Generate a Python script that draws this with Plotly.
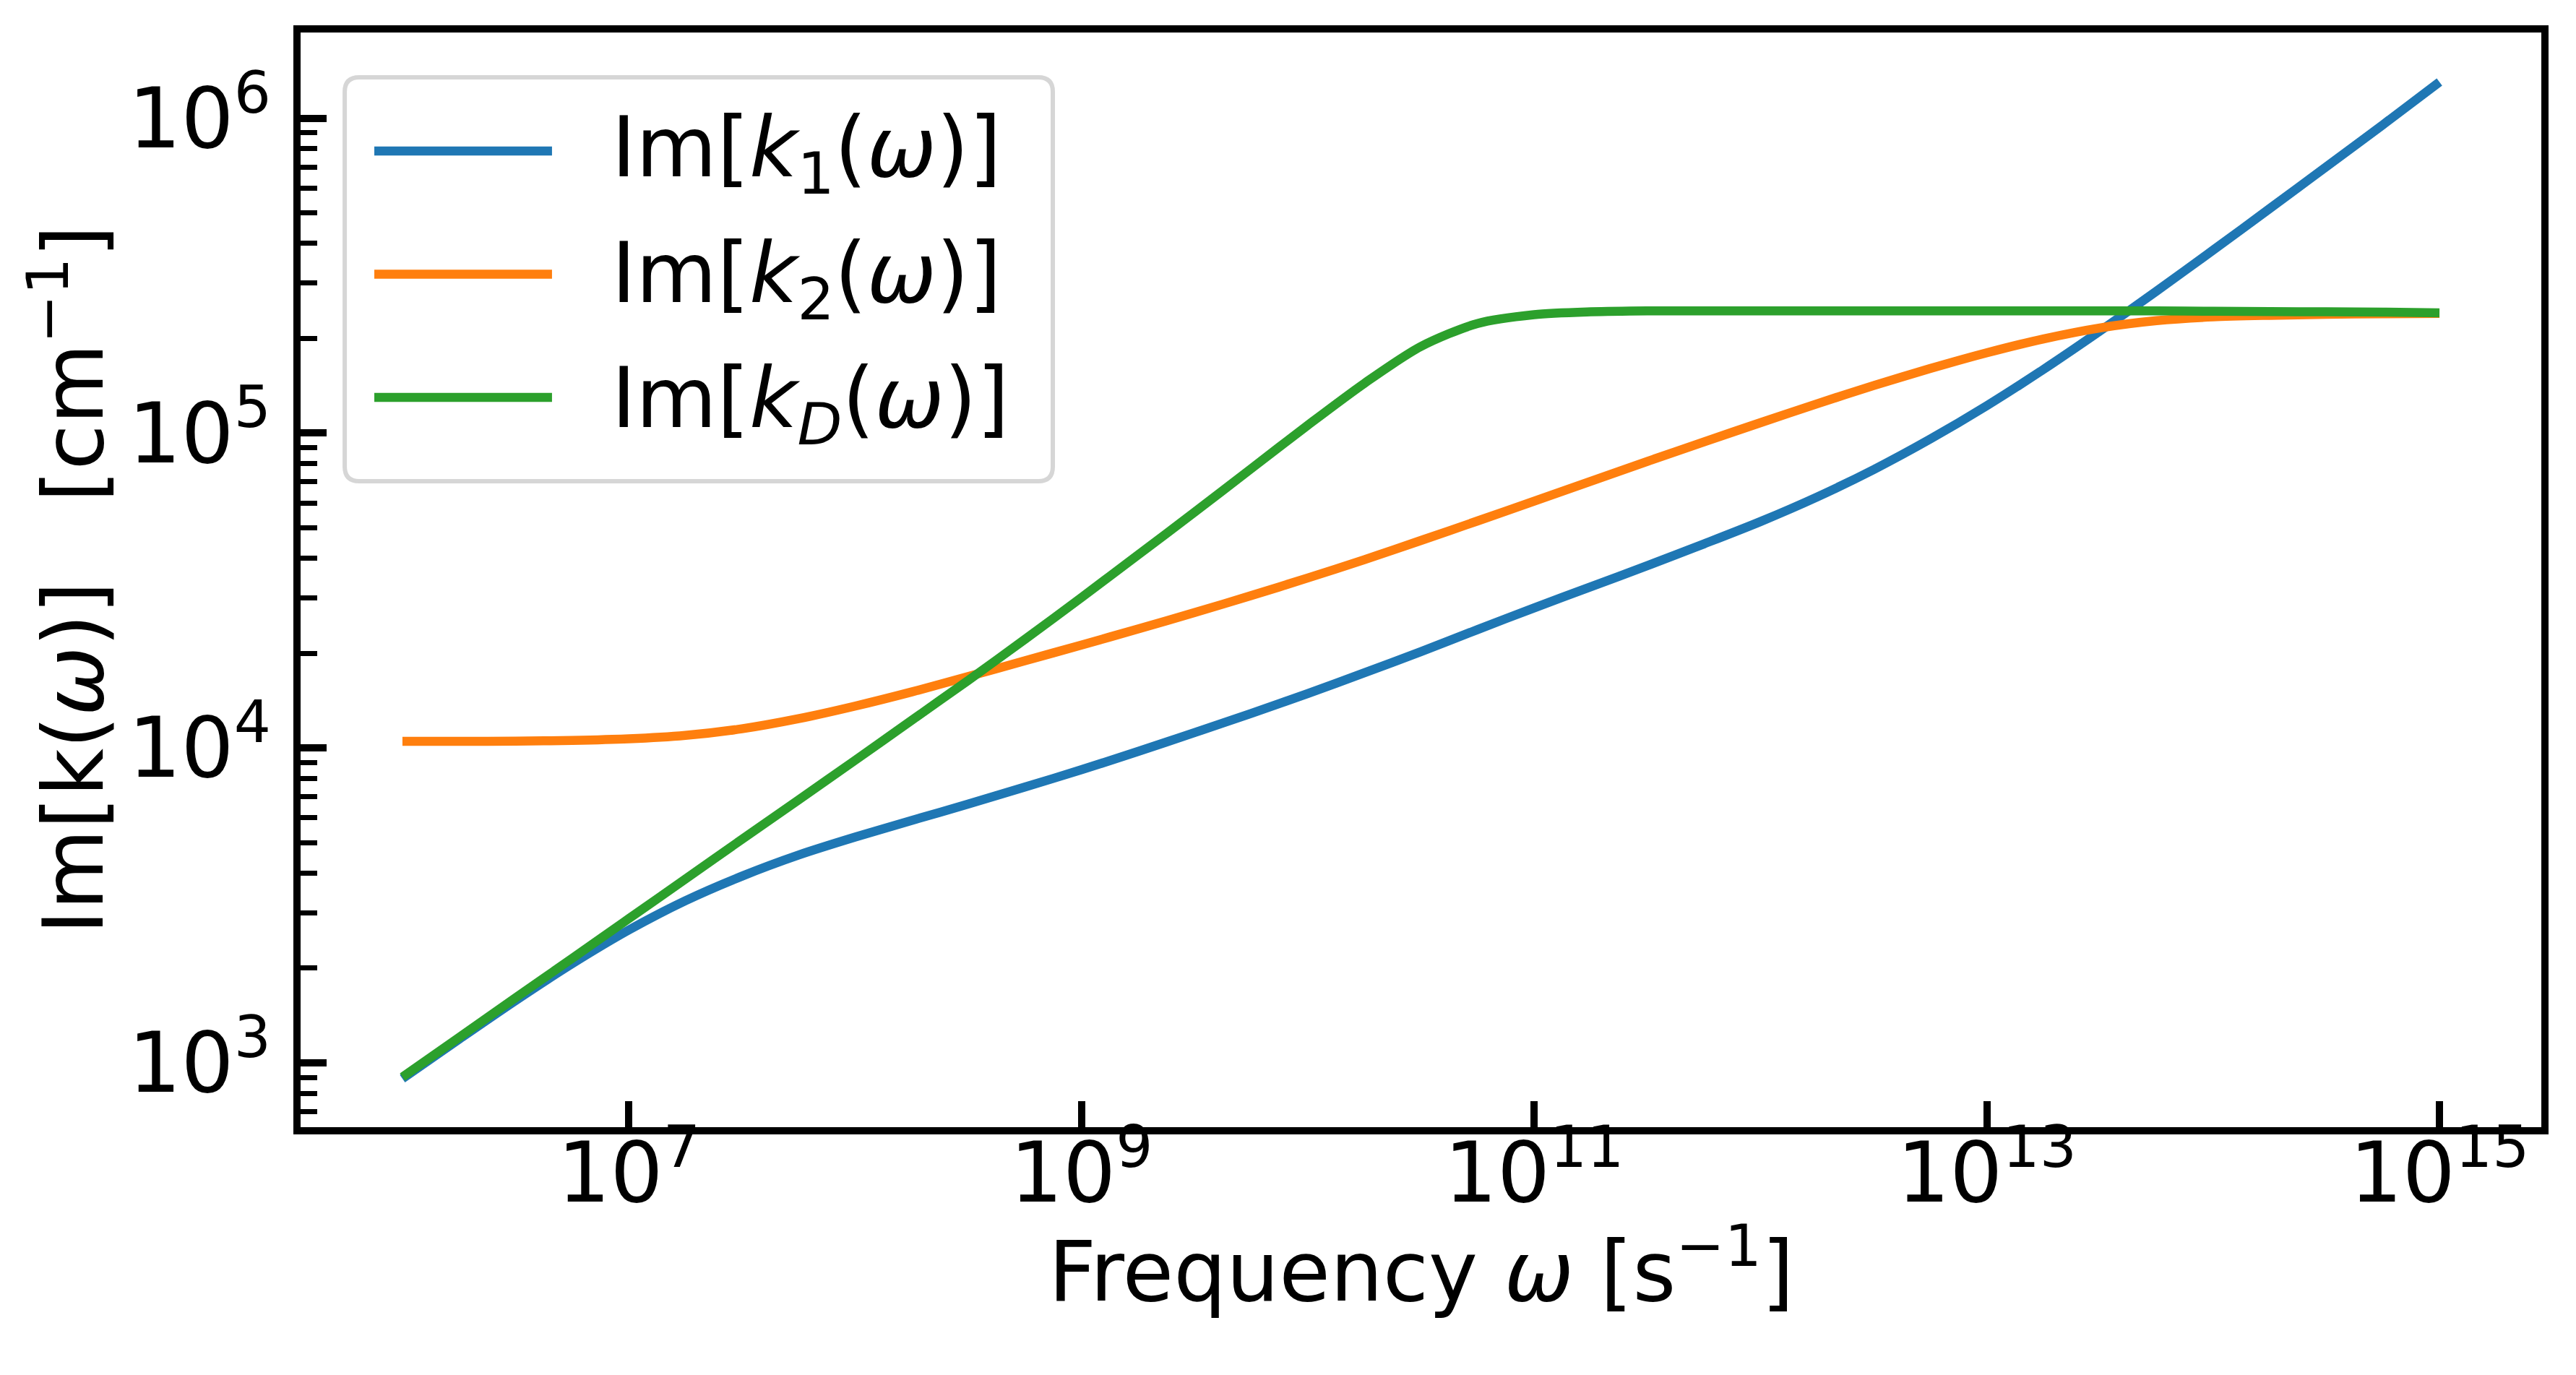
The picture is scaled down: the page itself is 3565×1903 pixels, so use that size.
import numpy as np
import plotly.graph_objects as go

# Im[k(omega)] vs frequency (values are log10)
log_omega = [6.0, 6.25, 6.5, 6.75, 7.0, 7.25, 7.5, 7.75, 8.0, 8.25, 8.5, 8.75,
             9.0, 9.25, 9.5, 9.75, 10.0, 10.25, 10.5, 10.75, 11.0, 11.25, 11.5, 11.75,
             12.0, 12.25, 12.5, 12.75, 13.0, 13.25, 13.5, 13.75, 14.0, 14.25, 14.5, 14.75, 15.0]

log_k1 = [2.950, 3.075, 3.198, 3.315, 3.422, 3.515, 3.593, 3.660, 3.717, 3.770, 3.822, 3.876,
          3.931, 3.989, 4.049, 4.110, 4.173, 4.239, 4.306, 4.376, 4.445, 4.512, 4.579, 4.648,
          4.719, 4.797, 4.884, 4.981, 5.087, 5.202, 5.324, 5.451, 5.581, 5.713, 5.846, 5.979, 6.115]

log_k2 = [4.021, 4.021, 4.022, 4.024, 4.029, 4.040, 4.061, 4.093, 4.133, 4.178, 4.227, 4.277,
          4.327, 4.378, 4.430, 4.484, 4.540, 4.598, 4.659, 4.721, 4.784, 4.847, 4.910, 4.972,
          5.033, 5.093, 5.151, 5.205, 5.255, 5.299, 5.334, 5.357, 5.369, 5.374, 5.377, 5.379, 5.380]

log_kD = [2.955, 3.081, 3.207, 3.332, 3.458, 3.584, 3.710, 3.835, 3.961, 4.088, 4.215, 4.345,
          4.478, 4.613, 4.749, 4.887, 5.025, 5.158, 5.275, 5.348, 5.376, 5.385, 5.388, 5.388,
          5.388, 5.388, 5.388, 5.388, 5.388, 5.388, 5.388, 5.388, 5.387, 5.386, 5.385, 5.384, 5.382]

names = ["Im[<i>k</i><sub>1</sub>(<i>ω</i>)]",
         "Im[<i>k</i><sub>2</sub>(<i>ω</i>)]",
         "Im[<i>k</i><sub><i>D</i></sub>(<i>ω</i>)]"]
colors = ["#1f77b4", "#ff7f0e", "#2ca02c"]

x_ticks = [1e7, 1e9, 1e11, 1e13, 1e15]
x_tick_text = ["10<sup>7</sup>", "10<sup>9</sup>", "10<sup>11</sup>", "10<sup>13</sup>", "10<sup>15</sup>"]
y_ticks = [1e3, 1e4, 1e5, 1e6]
y_tick_text = ["10<sup>3</sup>", "10<sup>4</sup>", "10<sup>5</sup>", "10<sup>6</sup>"]
y_minor = [m * 10.0 ** e for e in range(2, 7) for m in range(2, 10)]

omega = 10 ** np.array(log_omega)

FONT = "DejaVu Sans"
FS = 115

fig = go.Figure()
for name, ly, c in zip(names, [log_k1, log_k2, log_kD], colors):
    fig.add_trace(go.Scatter(x=omega, y=10 ** np.array(ly), mode="lines", name=name,
                             showlegend=False,
                             line=dict(color=c, width=12.5, shape="spline", smoothing=0.8)))
# legend entries (text only; the thick handles are drawn as shapes below)
for i, name in enumerate(names):
    fig.add_trace(go.Scatter(x=[None], y=[None], mode="lines", name="\u00a0\u00a0" + name,
                             legendgroup=str(i), line=dict(color="rgba(0,0,0,0)", width=1)))

axis_common = dict(type="log", showline=True, linecolor="black", linewidth=10, mirror=True,
                   showgrid=False, zeroline=False, ticks="inside", ticklen=36, tickwidth=10,
                   tickcolor="black", tickfont=dict(family=FONT, size=FS, color="black"))

# rounded legend frame (matplotlib style), paper coordinates
x0, x1, y0, y1 = 0.0197, 0.3357, 0.5901, 0.9591
rx, ry = 0.0065, 0.0132
frame = (f"M{x0+rx},{y1} L{x1-rx},{y1} Q{x1},{y1} {x1},{y1-ry} L{x1},{y0+ry} "
         f"Q{x1},{y0} {x1-rx},{y0} L{x0+rx},{y0} Q{x0},{y0} {x0},{y0+ry} "
         f"L{x0},{y1-ry} Q{x0},{y1} {x0+rx},{y1} Z")
shapes = [dict(type="path", path=frame, xref="paper", yref="paper", layer="above",
               fillcolor="rgba(255,255,255,0.8)", line=dict(color="#d6d6d6", width=6))]
for c, yy in zip(colors, [0.8917, 0.7792, 0.6667]):
    shapes.append(dict(type="line", xref="paper", yref="paper", layer="above",
                       x0=0.0329, x1=0.1122, y0=yy, y1=yy, line=dict(color=c, width=12.5)))

fig.update_layout(
    width=3565, height=1903,
    margin=dict(l=416, r=48, t=45, b=343),
    paper_bgcolor="white", plot_bgcolor="white",
    font=dict(family=FONT, size=FS, color="black"),
    xaxis=dict(axis_common, range=[5.55, 15.45], tickvals=x_ticks, ticktext=x_tick_text,
               ticklabelstandoff=-45),
    yaxis=dict(axis_common, range=[2.796, 6.272], tickvals=y_ticks, ticktext=y_tick_text,
               ticklabelstandoff=8,
               minor=dict(tickvals=y_minor, ticks="inside", ticklen=23, tickwidth=7,
                          tickcolor="black"),
               title=dict(text="Im[k(<i>ω</i>)]\u00a0\u00a0\u00a0[cm<sup>−1</sup>]", standoff=0,
                          font=dict(family=FONT, size=FS))),
    annotations=[dict(text="Frequency <i>ω</i> [s<sup>−1</sup>]", xref="paper", yref="paper",
                      x=0.5, y=-0.076, xanchor="center", yanchor="top", showarrow=False,
                      font=dict(family=FONT, size=FS, color="black"))],
    shapes=shapes,
    legend=dict(x=0.0197, y=0.9518, xanchor="left", yanchor="top",
                bgcolor="rgba(0,0,0,0)", borderwidth=0, indentation=36,
                font=dict(family=FONT, size=FS), itemwidth=250, tracegroupgap=21),
)

fig.write_html("out.html", config={"displayModeBar": False},
               post_script="document.body.style.margin='0';")
